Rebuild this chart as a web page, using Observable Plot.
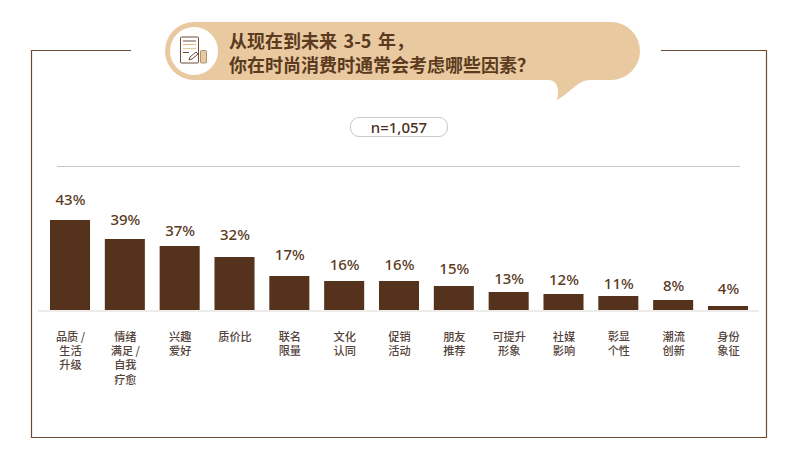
<!DOCTYPE html>
<html lang="zh">
<head>
<meta charset="utf-8">
<script src="https://cdn.jsdelivr.net/npm/d3@7"></script>
<script src="https://cdn.jsdelivr.net/npm/@observablehq/plot@0.6"></script>
<style>
  html, body { margin: 0; padding: 0; background: #fff; }
  #page { position: relative; width: 794px; height: 473px; overflow: hidden; font-family: "Noto Sans CJK SC", "Noto Sans", sans-serif; }
  #deco { position: absolute; left: 0; top: 0; }
  #chart { position: absolute; left: 0; top: 0; }
  #chart svg { display: block; background: transparent; }
  .title { position: absolute; left: 229px; top: 28px; font-size: 18px; line-height: 24.4px; font-weight: 700; word-spacing: 2.5px; color: #5b3a1e; white-space: pre; }
  .n { position: absolute; left: 350px; top: 117px; width: 98px; height: 20px; line-height: 19px; text-align: center; font-size: 15px; font-weight: 500; color: #4a3020; box-sizing: border-box; border: 1px solid #cbc9c7; border-radius: 9px; font-family: "Noto Sans", sans-serif; }
</style>
</head>
<body>
<div id="page">
  <svg id="deco" width="794" height="473" viewBox="0 0 794 473">
    <path d="M131 50.5H31.5V437.5H766.5V50.5H661" fill="none" stroke="#6b4a36" stroke-width="1.2"/>
    <path d="M194 22H611a29 29 0 0 1 0 58H590C578 80 570 93 557 100C559 92 559 80 548 80H194a29 29 0 0 1 0-58Z" fill="#e8c9a0"/>
    <circle cx="194" cy="51" r="24" fill="#fff"/>
    <g fill="none" stroke="#6f4d3a" stroke-width="1">
      <rect x="180.5" y="37" width="18" height="26" rx="1"/>
      <path d="M183 41H196" />
      <path d="M183 44.5H196" stroke="#e8b27a"/>
      <path d="M183 48.5H196" stroke="#e8c9a0"/>
      <path d="M183 52.5H189"/>
      <path d="M189 60l1-3 6-5 2 2-6 5z" fill="#fff"/>
      <rect x="200.5" y="50.5" width="6" height="12.5" rx="1" fill="#e8c9a0" stroke="#a8927c"/>
    </g>
    <path d="M57 166.5H740" stroke="#c9c5bf" stroke-width="1"/>
  </svg>
  <div id="chart"></div>
  <div class="title" id="title"></div>
  <div class="n" id="n"></div>
</div>
<script>
const titleLines = ["从现在到未来 3-5 年，", "你在时尚消费时通常会考虑哪些因素？"];
const sampleLabel = "n=1,057";
const categories = ["品质 /\n生活\n升级", "情绪\n满足 /\n自我\n疗愈", "兴趣\n爱好", "质价比", "联名\n限量", "文化\n认同", "促销\n活动", "朋友\n推荐", "可提升\n形象", "社媒\n影响", "彰显\n个性", "潮流\n创新", "身份\n象征"];
const percents = [43, 39, 37, 32, 17, 16, 16, 15, 13, 12, 11, 8, 4];

// The original's bars are not drawn proportionally, so the y scale is piecewise.
const yDomain = [0, 4, 8, 11, 12, 13, 15, 16, 17, 32, 37, 39, 43];
const yRange = [310, 306, 300, 296, 294, 292, 286, 281, 276, 257, 246, 239, 220];
// The original's value labels also sit at uneven distances above their bars.
const labelLift = [20, 19, 15, 22, 21, 16, 16, 17, 13, 14, 12, 14, 17];

const rows = categories.map((c, i) => ({category: c, percent: percents[i]}));

document.getElementById("title").textContent = titleLines.join("\n");
document.getElementById("n").textContent = sampleLabel;

const chart = Plot.plot({
  width: 794,
  height: 473,
  marginLeft: 38,
  marginRight: 35,
  marginTop: 0,
  marginBottom: 163,
  style: {background: "transparent", fontFamily: "\"Noto Sans CJK SC\", \"Noto Sans\", sans-serif"},
  x: {domain: categories, range: [50, 748], paddingInner: 0.27, paddingOuter: 0, align: 0.5, round: false, label: null},
  y: {type: "linear", domain: yDomain, range: yRange, axis: null},
  marks: [
    Plot.ruleY([0], {stroke: "#dcdad8", strokeWidth: 1.2, dy: 0.5}),
    Plot.barY(rows, {x: "category", y: "percent", fill: "#55321b"}),
    ...rows.map((row, i) => Plot.text([row], {
      x: "category", y: "percent", text: d => d.percent + "%",
      dy: -labelLift[i], fontSize: 15, fontWeight: 500, fill: "#5b3a1e",
      fontFamily: "\"Noto Sans\", sans-serif"
    })),
    Plot.axisX({
      anchor: "bottom", tickSize: 0, tickPadding: 20, label: null,
      fontSize: 11.2, fontWeight: 500, lineHeight: 1.28, fill: "#54433a"
    })
  ]
});
document.getElementById("chart").appendChild(chart);
</script>
</body>
</html>
